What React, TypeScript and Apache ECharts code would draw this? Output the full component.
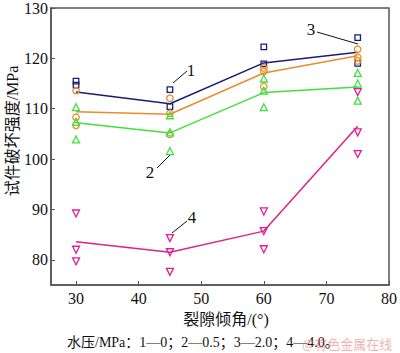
import React, { useEffect, useRef } from "react";
import * as echarts from "echarts";

const angles = [30, 45, 60, 75];
const xTicks = [30, 40, 50, 60, 70, 80];
const yTicks = [80, 90, 100, 110, 120, 130];

// mean lines
const line1 = [113.3, 111.0, 119.1, 121.2]; // 0 MPa
const line2 = [107.2, 105.2, 113.2, 114.3]; // 0.5 MPa
const line3 = [109.4, 108.9, 117.1, 120.5]; // 2.0 MPa
const line4 = [83.6, 81.5, 85.7, 106.5]; // 4.0 MPa

// individual test points [angle, strength]
const pts1: number[][] = [
  [30, 115.5], [30, 114.7],
  [45, 113.8], [45, 110.4],
  [60, 122.3], [60, 118.9],
  [75, 124.1], [75, 119.0],
];
const pts2: number[][] = [
  [30, 110.3], [30, 107.4], [30, 103.9],
  [45, 108.7], [45, 105.3], [45, 101.6],
  [60, 116.0], [60, 113.6], [60, 110.3],
  [75, 117.1], [75, 115.0], [75, 111.6],
];
const pts3: number[][] = [
  [30, 113.6], [30, 108.3], [30, 106.7],
  [45, 112.1], [45, 109.1], [45, 104.9],
  [60, 118.1], [60, 117.4], [60, 114.4],
  [75, 121.8], [75, 120.2], [75, 119.5],
];
const pts4: number[][] = [
  [30, 89.2], [30, 82.0], [30, 79.7],
  [45, 84.3], [45, 81.5], [45, 77.6],
  [60, 89.6], [60, 85.7], [60, 82.1],
  [75, 113.3], [75, 105.3], [75, 101.0],
];

const C1 = "#1c1c72";
const C2 = "#3fe03f";
const C3 = "#e98c2c";
const C4 = "#e0208e";

const SERIF = "'Times New Roman', 'Liberation Serif', 'Noto Sans CJK SC', serif";
const CJK = "'Liberation Serif', 'Noto Sans CJK SC', serif";

function pair(vals: number[]) {
  return angles.map((a, i) => [a, vals[i]]);
}

export default function App() {
  const ref = useRef<HTMLDivElement>(null);
  useEffect(() => {
    if (!ref.current) return;
    const chart = echarts.init(ref.current, undefined, { renderer: "svg" });
    const lineS = (vals: number[], color: string) => ({
      type: "line",
      data: pair(vals),
      showSymbol: false,
      symbol: "none",
      lineStyle: { color, width: 1.5 },
      z: 2,
    });
    const scat = (data: number[][], color: string, symbol: string, rotate = 0, size = 6) => ({
      type: "scatter",
      data,
      symbol,
      symbolRotate: rotate,
      symbolSize: size,
      itemStyle: { color: "rgba(0,0,0,0)", borderColor: color, borderWidth: 1.3, opacity: 1 },
      z: 3,
    });
    chart.setOption({
      animation: false,
      grid: {
        left: 51,
        right: 7,
        top: 5,
        bottom: 68,
        show: true,
        borderColor: "#555",
        borderWidth: 1.5,
        backgroundColor: "transparent",
      },
      xAxis: {
        type: "value",
        min: 26,
        max: 80,
        axisLine: { show: true, lineStyle: { color: "#555", width: 1.5 } },
        axisTick: { show: true, inside: true, length: 4, customValues: xTicks, lineStyle: { color: "#555" } },
        axisLabel: {
          customValues: xTicks,
          color: "#111",
          fontSize: 16,
          fontFamily: SERIF,
          margin: 5,
        },
        splitLine: { show: false },
      },
      yAxis: {
        type: "value",
        min: 75,
        max: 130,
        axisLine: { show: true, lineStyle: { color: "#555", width: 1.5 } },
        axisTick: { show: true, inside: true, length: 4, customValues: yTicks, lineStyle: { color: "#555" } },
        axisLabel: {
          customValues: yTicks,
          color: "#111",
          fontSize: 16,
          fontFamily: SERIF,
          margin: 3,
        },
        splitLine: { show: false },
      },
      series: [
        lineS(line1, C1),
        lineS(line3, C3),
        lineS(line2, C2),
        lineS(line4, C4),
        scat(pts1, C1, "rect", 0, 5.5),
        scat(pts3, C3, "circle", 0, 6.5),
        scat(pts2, C2, "triangle", 0, 7),
        scat(pts4, C4, "triangle", 180, 7),
      ],
      graphic: [
        {
          type: "text",
          rotation: Math.PI / 2,
          style: {
            text: "试件破坏强度/MPa",
            font: `16px ${CJK}`,
            fill: "#111",
            align: "center",
            verticalAlign: "middle",
          },
          x: 12,
          y: 131,
        },
        {
          type: "text",
          x: 226,
          y: 319,
          style: {
            text: "裂隙倾角/(°)",
            font: `16px ${CJK}`,
            fill: "#111",
            align: "center",
            verticalAlign: "middle",
          },
        },
        {
          type: "text",
          x: 67,
          y: 342,
          style: {
            text: "水压/MPa：1—0；2—0.5；3—2.0；4—4.0。",
            font: `14px ${CJK}`,
            fill: "#111",
            align: "left",
            verticalAlign: "middle",
          },
        },
        {
          type: "text",
          x: 302,
          y: 343,
          style: {
            text: "@有色金属在线",
            font: `13px 'Noto Sans CJK SC', sans-serif`,
            fill: "rgba(230,110,110,0.55)",
            align: "left",
            verticalAlign: "middle",
          },
        },
        // annotation leaders
        { type: "line", shape: { x1: 173, y1: 83, x2: 187, y2: 71 }, style: { stroke: "#111", lineWidth: 1 } },
        { type: "line", shape: { x1: 317, y1: 32, x2: 358, y2: 44 }, style: { stroke: "#111", lineWidth: 1 } },
        { type: "line", shape: { x1: 157, y1: 168, x2: 170, y2: 155 }, style: { stroke: "#111", lineWidth: 1 } },
        { type: "line", shape: { x1: 172, y1: 233, x2: 187, y2: 221 }, style: { stroke: "#111", lineWidth: 1 } },
        { type: "text", x: 191, y: 70, style: { text: "1", font: `17px ${SERIF}`, fill: "#111", align: "center", verticalAlign: "middle" } },
        { type: "text", x: 311, y: 29, style: { text: "3", font: `17px ${SERIF}`, fill: "#111", align: "center", verticalAlign: "middle" } },
        { type: "text", x: 150, y: 172, style: { text: "2", font: `17px ${SERIF}`, fill: "#111", align: "center", verticalAlign: "middle" } },
        { type: "text", x: 192, y: 217, style: { text: "4", font: `17px ${SERIF}`, fill: "#111", align: "center", verticalAlign: "middle" } },
      ],
    });
    return () => chart.dispose();
  }, []);
  return <div ref={ref} style={{ width: 400, height: 353, position: "absolute", left: 0, top: 0 }} />;
}
